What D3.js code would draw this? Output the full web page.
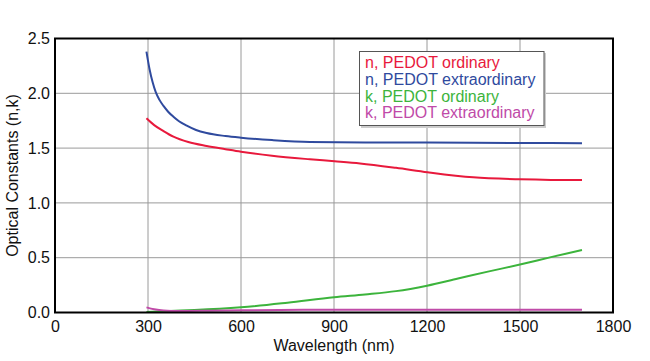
<!DOCTYPE html>
<html>
<head>
<meta charset="utf-8">
<script src="https://cdn.jsdelivr.net/npm/d3@7"></script>
<style>
  html, body { margin: 0; padding: 0; background: #fff; }
  svg { display: block; font-family: "Liberation Sans", Arial, sans-serif; }
</style>
</head>
<body>
<div id="chart"></div>
<script>
// Data (wavelength in nm)
const nOrdWl  = [295, 320, 350, 382, 430, 489, 550, 600, 700, 822, 902, 984, 1100, 1202, 1349, 1500, 1600, 1700];
const nOrdVal = [1.772, 1.71, 1.655, 1.604, 1.555, 1.519, 1.49, 1.467, 1.43, 1.398, 1.38, 1.36, 1.32, 1.28, 1.233, 1.215, 1.21, 1.209];

const nExtWl  = [295, 305, 315, 325, 337, 350, 365, 382, 400, 425, 455, 489, 550, 600, 700, 822, 1000, 1200, 1500, 1700];
const nExtVal = [2.38, 2.22, 2.10, 2.01, 1.94, 1.885, 1.832, 1.786, 1.745, 1.705, 1.665, 1.637, 1.61, 1.595, 1.573, 1.556, 1.552, 1.55, 1.547, 1.545];

const kOrdWl  = [295, 370, 450, 600, 750, 900, 1000, 1100, 1200, 1300, 1400, 1500, 1600, 1700];
const kOrdVal = [0.005, 0.014, 0.022, 0.047, 0.09, 0.14, 0.165, 0.195, 0.245, 0.31, 0.375, 0.438, 0.505, 0.57];

const kExtWl  = [295, 320, 350, 400, 500, 600, 800, 1000, 1200, 1500, 1700];
const kExtVal = [0.047, 0.03, 0.018, 0.013, 0.016, 0.02, 0.024, 0.026, 0.026, 0.025, 0.024];

const seriesNames  = ['n, PEDOT ordinary', 'n, PEDOT extraordinary', 'k, PEDOT ordinary', 'k, PEDOT extraordinary'];
const seriesColors = ['#e8193c', '#2f4a9e', '#3cb43c', '#c04aa8'];

const xTicks = [0, 300, 600, 900, 1200, 1500, 1800];
const yTicks = [0, 0.5, 1.0, 1.5, 2.0, 2.5];

const W = 650, H = 361;
const margin = { top: 38.5, right: 37, bottom: 48.5, left: 55 };

const svg = d3.select('#chart').append('svg')
  .attr('width', W).attr('height', H);

const x = d3.scaleLinear().domain([0, 1800]).range([margin.left, W - margin.right]);
const y = d3.scaleLinear().domain([0, 2.5]).range([H - margin.bottom, margin.top]);

// Grid
const grid = svg.append('g');
grid.selectAll('line.vx').data(xTicks.slice(1, -1)).enter().append('line')
  .attr('x1', d => x(d)).attr('x2', d => x(d))
  .attr('y1', y(0)).attr('y2', y(2.5))
  .attr('stroke', '#9a9a9a').attr('stroke-width', 1);
grid.selectAll('line.hy').data(yTicks.slice(1, -1)).enter().append('line')
  .attr('x1', x(0)).attr('x2', x(1800))
  .attr('y1', d => y(d)).attr('y2', d => y(d))
  .attr('stroke', '#9a9a9a').attr('stroke-width', 1);

// Axes (labels only, frame drawn separately)
const xAxis = svg.append('g')
  .attr('transform', `translate(0,${y(0)})`)
  .call(d3.axisBottom(x).tickValues(xTicks).tickSize(0).tickPadding(8).tickFormat(d3.format('d')));
const yAxis = svg.append('g')
  .attr('transform', `translate(${x(0)},0)`)
  .call(d3.axisLeft(y).tickValues(yTicks).tickSize(0).tickPadding(5).tickFormat(d3.format('.1f')));
[xAxis, yAxis].forEach(a => {
  a.select('.domain').remove();
  a.selectAll('text').attr('font-size', 16).attr('fill', '#111')
    .attr('font-family', '"Liberation Sans", Arial, sans-serif');
});

// Series
const series = [
  [nOrdWl, nOrdVal], [nExtWl, nExtVal], [kOrdWl, kOrdVal], [kExtWl, kExtVal]
];
const line = d3.line().x(d => x(d[0])).y(d => y(d[1])).curve(d3.curveMonotoneX);
series.forEach(([wl, val], i) => {
  svg.append('path')
    .datum(wl.map((w, j) => [w, val[j]]))
    .attr('d', line)
    .attr('fill', 'none')
    .attr('stroke', seriesColors[i])
    .attr('stroke-width', 2);
});

// Frame
svg.append('rect')
  .attr('x', x(0)).attr('y', y(2.5))
  .attr('width', x(1800) - x(0)).attr('height', y(0) - y(2.5))
  .attr('fill', 'none').attr('stroke', '#000').attr('stroke-width', 2);

// Axis titles
svg.append('text')
  .attr('x', (x(0) + x(1800)) / 2).attr('y', 351)
  .attr('text-anchor', 'middle').attr('font-size', 16).attr('fill', '#111')
  .text('Wavelength (nm)');
svg.append('text')
  .attr('transform', `translate(18,${(y(0) + y(2.5)) / 2}) rotate(-90)`)
  .attr('text-anchor', 'middle').attr('font-size', 16).attr('fill', '#111')
  .text('Optical Constants (n,k)');

// Legend
const lg = svg.append('g');
lg.append('rect')
  .attr('x', 361).attr('y', 53).attr('width', 185).attr('height', 75)
  .attr('fill', '#ccc');
lg.append('rect')
  .attr('x', 359.5).attr('y', 51.5).attr('width', 184.5).attr('height', 74)
  .attr('fill', '#fff').attr('stroke', '#555').attr('stroke-width', 1);
lg.selectAll('text').data(seriesNames).enter().append('text')
  .attr('x', 365).attr('y', (d, i) => 68 + i * 16.8)
  .attr('font-size', 16).attr('fill', (d, i) => seriesColors[i])
  .text(d => d);
</script>
</body>
</html>
